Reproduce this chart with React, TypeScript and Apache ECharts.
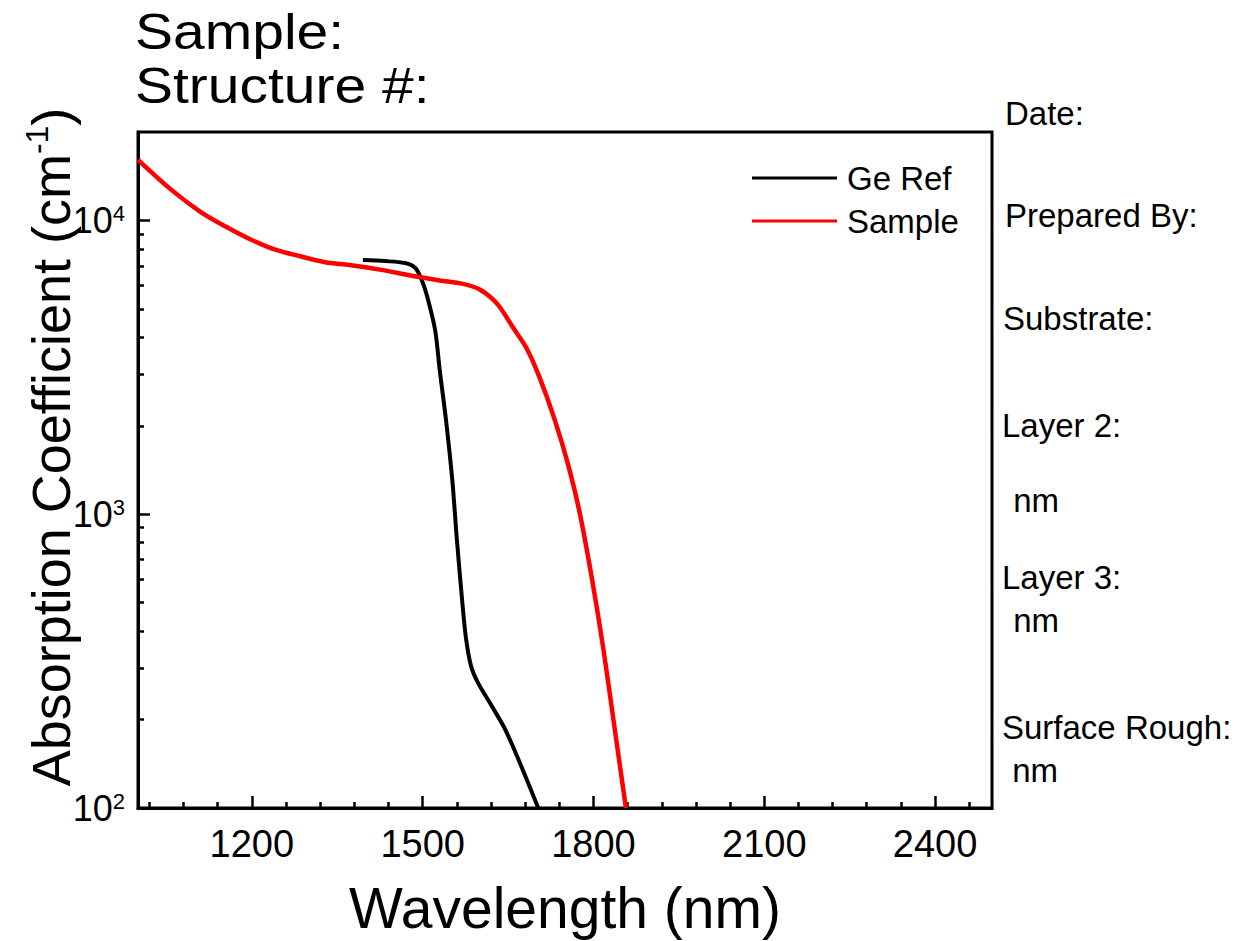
import React, { useEffect, useRef } from 'react';
import * as echarts from 'echarts';

// Ge reference absorption spectrum
const geRefWavelength = [1395, 1434, 1469, 1487, 1499, 1509, 1522, 1530, 1541, 1552, 1560, 1569, 1576, 1585, 1597, 1618, 1645, 1671, 1703];
const geRefAbsorption = [7330, 7270, 7160, 6890, 6220, 5410, 4220, 3090, 2090, 1310, 824, 517, 379, 304, 267, 228, 185, 142, 100];

// Sample absorption spectrum
const sampleWavelength = [1000, 1056, 1109, 1153, 1197, 1241, 1285, 1329, 1372, 1425, 1483, 1530, 1571, 1601, 1631, 1659, 1683, 1706, 1732, 1755, 1776, 1797, 1817, 1836, 1857];
const sampleAbsorption = [16070, 12830, 10720, 9550, 8630, 7950, 7550, 7210, 7050, 6800, 6470, 6250, 6080, 5810, 5200, 4310, 3660, 2900, 2095, 1486, 1007, 608, 352, 194, 100];

const seriesNames = ['Ge Ref', 'Sample'];

// Axis ticks
const xMajorTicks = [1200, 1500, 1800, 2100, 2400];
const xMinorTicks = [1020, 1080, 1140, 1260, 1320, 1380, 1440, 1560, 1620, 1680, 1740, 1860, 1920, 1980, 2040, 2160, 2220, 2280, 2340, 2460];
const yMajorTicks = [100, 1000, 10000];
const yMinorTicks = [200, 300, 400, 500, 600, 700, 800, 900, 2000, 3000, 4000, 5000, 6000, 7000, 8000, 9000];

// Header and side notes
const headerLines = ['Sample:', 'Structure #:'];
const sideNotes = ['Date:', 'Prepared By:', 'Substrate:', 'Layer 2:', ' nm', 'Layer 3:', ' nm', 'Surface Rough:', ' nm'];

const FONT = '"Liberation Sans", Arial, sans-serif';

export default function App() {
  const ref = useRef<HTMLDivElement>(null);

  useEffect(() => {
    if (!ref.current) return;
    const chart = echarts.init(ref.current, undefined, { renderer: 'svg' });

    const headerY = [31, 85];
    const noteY = [113, 215, 318, 425, 500, 577, 620, 727, 770];
    const noteX = [1005, 1005, 1003, 1002, 1004, 1002, 1004, 1002, 1003];

    const graphic: any[] = [
      ...headerLines.map((t, i) => ({
        type: 'text',
        x: 135,
        y: headerY[i],
        scaleX: 1.14,
        style: { text: t, fontSize: 50, fontFamily: FONT, fill: '#000', verticalAlign: 'middle', align: 'left' },
      })),
      ...sideNotes.map((t, i) => ({
        type: 'text',
        x: noteX[i],
        y: noteY[i],
        style: { text: t, fontSize: 33, fontFamily: FONT, fill: '#000', verticalAlign: 'middle', align: 'left' },
      })),
    ];

    const baseX = { type: 'value', min: 1000, max: 2500, gridIndex: 0, position: 'bottom', splitLine: { show: false } };
    const baseY = { type: 'log', logBase: 10, min: 100, max: 20000, gridIndex: 0, position: 'left', splitLine: { show: false } };

    chart.setOption({
      animation: false,
      backgroundColor: '#fff',
      grid: { left: 138, right: 268, top: 132, bottom: 131, show: true, borderColor: '#000', borderWidth: 3, backgroundColor: 'transparent' },
      legend: {
        orient: 'vertical',
        left: 752,
        top: 161,
        padding: 0,
        itemWidth: 85,
        itemHeight: 3,
        itemGap: 9,
        data: seriesNames.map((name) => ({ name, icon: 'rect' })),
        textStyle: { fontSize: 33, lineHeight: 34, fontFamily: FONT, color: '#000', padding: [0, 0, 0, 5] },
      },
      graphic,
      xAxis: [
        {
          ...baseX,
          name: 'Wavelength (nm)',
          nameLocation: 'middle',
          nameGap: 71,
          nameMoveOverlap: false,
          nameTextStyle: { fontSize: 57, fontFamily: FONT, color: '#000' },
          axisLine: { show: true, lineStyle: { color: '#000', width: 3 } },
          axisTick: { show: true, inside: true, length: 12, customValues: xMajorTicks, lineStyle: { color: '#000', width: 2.5 } },
          axisLabel: {
            show: true,
            margin: 17,
            customValues: xMajorTicks,
            formatter: (v: number) => String(v),
            fontSize: 38,
            fontFamily: FONT,
            color: '#000',
          },
        },
        {
          ...baseX,
          axisLine: { show: false },
          axisTick: { show: true, inside: true, length: 6, customValues: xMinorTicks, lineStyle: { color: '#000', width: 2.5 } },
          axisLabel: { show: false },
        },
      ],
      yAxis: [
        {
          ...baseY,
          name: 'Absorption Coefficient (cm{s|-1})',
          nameLocation: 'middle',
          nameGap: 57,
          nameMoveOverlap: false,
          nameTextStyle: {
            fontSize: 54,
            lineHeight: 60,
            fontFamily: FONT,
            color: '#000',
            padding: [0, 0, 0, 46],
            rich: { s: { fontSize: 32, lineHeight: 32, verticalAlign: 'top', fontFamily: FONT, color: '#000' } },
          },
          axisLine: { show: true, lineStyle: { color: '#000', width: 3 } },
          axisTick: { show: true, inside: true, length: 12, customValues: yMajorTicks, lineStyle: { color: '#000', width: 2.5 } },
          axisLabel: {
            show: true,
            margin: 13,
            customValues: yMajorTicks,
            formatter: (v: number) => `{b|10}{s|${Math.round(Math.log10(v))}}`,
            rich: {
              b: { fontSize: 36, lineHeight: 36, fontFamily: FONT, color: '#000' },
              s: { fontSize: 22, lineHeight: 22, verticalAlign: 'top', fontFamily: FONT, color: '#000' },
            },
          },
        },
        {
          ...baseY,
          axisLine: { show: false },
          axisTick: { show: true, inside: true, length: 6, customValues: yMinorTicks, lineStyle: { color: '#000', width: 2.5 } },
          axisLabel: { show: false },
        },
      ],
      series: [
        {
          name: seriesNames[0],
          type: 'line',
          xAxisIndex: 0,
          yAxisIndex: 0,
          symbol: 'none',
          smooth: 0.3,
          color: '#000',
          lineStyle: { color: '#000', width: 4 },
          data: geRefWavelength.map((w, i) => [w, geRefAbsorption[i]]),
        },
        {
          name: seriesNames[1],
          type: 'line',
          xAxisIndex: 0,
          yAxisIndex: 0,
          symbol: 'none',
          smooth: 0.3,
          color: '#ff0000',
          lineStyle: { color: '#ff0000', width: 4.5 },
          data: sampleWavelength.map((w, i) => [w, sampleAbsorption[i]]),
        },
      ],
    });

    return () => chart.dispose();
  }, []);

  return <div ref={ref} style={{ position: 'absolute', left: 0, top: 0, width: 1260, height: 941, background: '#fff' }} />;
}
